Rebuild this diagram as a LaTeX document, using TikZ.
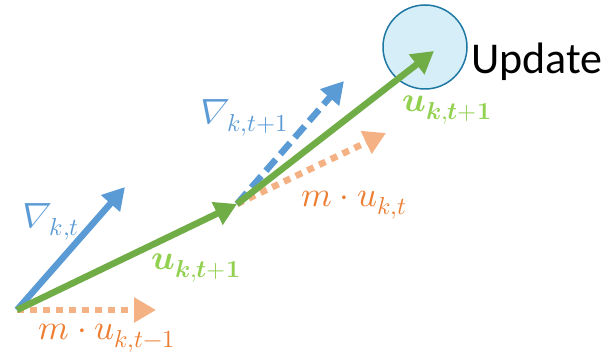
\documentclass[tikz,border=0pt]{standalone}
\usepackage{fontspec}
\usepackage{unicode-math}
\setmathfont{Latin Modern Math}
\newfontfamily\calib{Carlito}
\newfontfamily\slnab{Latin Modern Math}[FakeSlant=0.3]
\newcommand\itnab{\mathord{\mbox{\slnab ∇}\kern4pt}}
\usetikzlibrary{arrows.meta}
\definecolor{bl}{HTML}{5B9BD5}
\definecolor{gr}{HTML}{70AD47}
\definecolor{grl}{HTML}{92D050}
\definecolor{orl}{HTML}{F4B183}
\definecolor{ord}{HTML}{ED7D31}
\definecolor{cfill}{HTML}{D5EEF8}
\definecolor{cline}{HTML}{1F78A4}
\begin{document}
\begin{tikzpicture}[x=1pt,y=1pt,
  vec/.style={line width=6.5pt,-{Triangle[length=22pt,width=24pt]}},
  dotvec/.style={vec,orl,dash pattern=on 7pt off 6pt},
  dashvec/.style={vec,bl,dash pattern=on 15pt off 7pt},
  lab/.style={font=\fontsize{35}{40}\selectfont,inner sep=0pt}]
\useasboundingbox (0,0) rectangle (608,363);
\coordinate (O) at (17,53);
\coordinate (B1) at (125,176);
\coordinate (R1) at (156,53);
\coordinate (P) at (237,159);
\coordinate (B2) at (344,282);
\coordinate (R2) at (386,230);
\coordinate (G2) at (434,312);
\node[circle,draw=cline,fill=cfill,line width=1.5pt,minimum size=84pt,inner sep=0pt] (upd) at (425,316) {};
\node[anchor=west,inner sep=0pt,font=\calib\fontsize{44}{48}\selectfont] (ut) at (471,301) {Update};
\draw[dotvec] (O) -- (R1);
\draw[vec,bl] (O) -- (B1);
\draw[dotvec] (P) -- (R2);
\draw[dashvec] (P) -- (B2);
\draw[vec,gr] (O) -- (P);
\draw[vec,gr] (P) -- (G2);
\node[lab,text=bl] (l1) at (48,141) {$\itnab_{k,t}$};
\node[lab,text=grl] (l2) at (196,95) {$\symbfit{u}_{\symbfit{k},\symbfit{t}\symbf{+1}}$};
\node[lab,text=ord] (l3) at (107,25) {$m\cdot u_{k,t-1}$};
\node[lab,text=bl] (l4) at (241,245) {$\itnab_{k,t+1}$};
\node[lab,text=grl] (l5) at (447,253) {$\symbfit{u}_{\symbfit{k},\symbfit{t}\symbf{+1}}$};
\node[lab,text=ord] (l6) at (354,158) {$m\cdot u_{k,t}$};
\end{tikzpicture}
\end{document}
